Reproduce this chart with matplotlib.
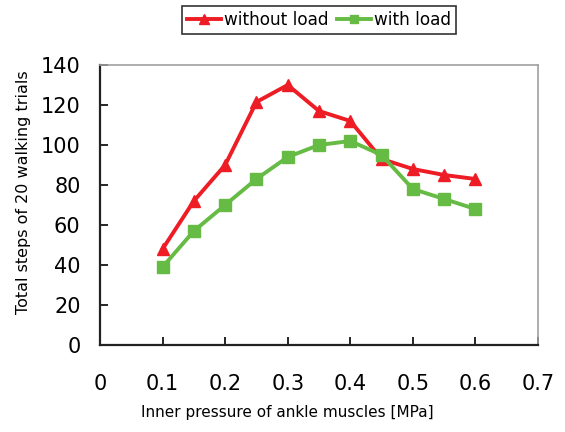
import matplotlib as mpl
mpl.use("Agg")
import matplotlib.pyplot as plt

mpl.rcParams.update({"font.family": "DejaVu Sans"})

pressure = [0.1, 0.15, 0.2, 0.25, 0.3, 0.35, 0.4, 0.45, 0.5, 0.55, 0.6]
without_load = [48, 72, 90, 121.5, 130, 117, 112, 93, 88, 85, 83]
with_load = [39, 57, 70, 83, 94, 100, 102, 95, 78, 73, 68]

RED, GREEN = "#EE1C24", "#66BB44"
W, H = 565, 432

fig = plt.figure(figsize=(W / 100, H / 100), dpi=100)
ax = fig.add_axes([100 / W, 1 - 345 / H, 438 / W, 280 / H])

ax.plot(pressure, without_load, color=RED, lw=2.8, marker="^", ms=9,
        label="without load", zorder=3)
ax.plot(pressure, with_load, color=GREEN, lw=2.8, marker="s", ms=8.5,
        label="with load", zorder=3)

ax.set_xlim(0, 0.7); ax.set_ylim(0, 140)
ax.set_xticks([0, 0.1, 0.2, 0.3, 0.4, 0.5, 0.6, 0.7])
ax.set_xticklabels(["0", "0.1", "0.2", "0.3", "0.4", "0.5", "0.6", "0.7"])
ax.set_yticks(range(0, 141, 20))
ax.tick_params(direction="in", length=6, width=1.2, labelsize=15, pad=14)
ax.tick_params(axis="x", pad=21)
for s in ("left", "bottom"):
    ax.spines[s].set_linewidth(1.6); ax.spines[s].set_color("#222222")
for s in ("top", "right"):
    ax.spines[s].set_linewidth(1.2); ax.spines[s].set_color("#a0a0a0")

ax.set_xlabel("Inner pressure of ankle muscles [MPa]", fontsize=11)
ax.set_ylabel("Total steps of 20 walking trials", fontsize=11.5)
ax.xaxis.set_label_coords((287 - 100) / 438, (345 - 412) / 280)
ax.yaxis.set_label_coords((24 - 100) / 438, (345 - 192) / 280)
ax.xaxis.label.set_va("center"); ax.yaxis.label.set_va("center")

leg = fig.legend(loc="upper center", bbox_to_anchor=(319 / W, 1 - 6 / H), ncol=2,
                 fontsize=12.2, frameon=True, fancybox=False, edgecolor="black",
                 handlelength=2.0, columnspacing=0.5, handletextpad=0.2,
                 borderpad=0.3, borderaxespad=0, markerscale=0.75)
leg.get_frame().set_linewidth(1.2)

fig.savefig("out.png", dpi=100)
